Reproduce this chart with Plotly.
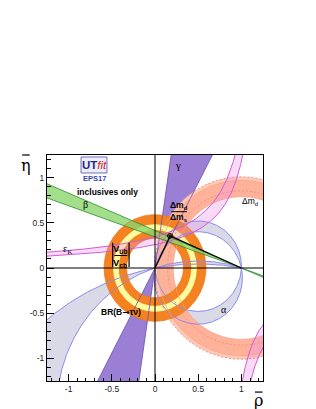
import numpy as np
import plotly.graph_objects as go

# ---------------- values (rho-bar / eta-bar plane) ----------------
GAMMA_DEG = [62.0, 81.5]            # gamma wedge edges, from (0,0)
BETA_DEG = [19.0, 22.5]             # beta band edges, from (1,0)
VUB_R95 = [0.33, 0.59]              # |Vub/Vcb| ring (orange), centred on (0,0)
VUB_R68 = [0.42, 0.485]             # |Vub/Vcb| inner ring (yellow)
DMD_R = [0.855, 1.01]               # Delta m_d ring about (1,0), dashed
DMDMS_R = [0.79, 0.97]              # Delta m_d / Delta m_s ring about (1,0)
ALPHA_FAR_K = [-2.75, -1.56]        # alpha circles through (0,0),(1,0): centre (0.5,k)
ALPHA_NEAR_K = [-0.11, 0.02]
EPSK_UP_C = [0.33, 0.44]            # eps_K upper branch  eta = c/(pole-rho)
EPSK_UP_POLE = 1.28
EPSK_LO_C = [0.30, 0.42]            # eps_K lower branch  eta = -c/(rho-pole)
EPSK_LO_POLE = 0.77
APEX = [0.175, 0.355]
APEX_AXES = [[0.032, 0.027], [0.016, 0.013]]

AX_RANGE = [-1.25, 1.25]
TICK_VALS = [-1, -0.5, 0, 0.5, 1]
TICK_TEXT = ["-1", "-0.5", "0", "0.5", "1"]
MINOR_TICKS = [round(v, 1) for v in np.arange(-1.2, 1.21, 0.1)]

# ---------------- colours ----------------
C_ALPHA_F, C_ALPHA_L = "#D9D9E8", "#8C8CEE"
C_GAMMA_F, C_GAMMA_L = "#9B7FD4", "#6B4FB0"
C_DMD_F, C_DMD_L = "#FFC8B6", "#EE8C78"
C_DMS_F, C_DMS_L = "#FFB29A", "#F4A088"
C_VUB_O, C_VUB_Y = "#F58220", "#FFFCA0"
C_EPS_F, C_EPS_L = "rgba(236,150,236,0.35)", "#D25CD2"
C_BETA_F, C_BETA_L = "rgba(140,214,110,0.80)", "#2E8B2E"

TH = np.linspace(0, 2 * np.pi, 721)


def circ(cx, cy, r, t=TH):
    return cx + r * np.cos(t), cy + r * np.sin(t)


def annulus(cx, cy, r0, r1):
    xo, yo = circ(cx, cy, r1)
    xi, yi = circ(cx, cy, r0, TH[::-1])
    return np.concatenate([xo, xi]), np.concatenate([yo, yi])


def alpha_circle(k, t0, t1, n=600):
    r = np.hypot(0.5, k)
    t = np.linspace(t0, t1, n)
    return 0.5 + r * np.cos(t), k + r * np.sin(t)


fig = go.Figure()


def add_fill(x, y, color):
    fig.add_trace(go.Scatter(x=x, y=y, mode="lines", fill="toself", fillcolor=color,
                             line=dict(width=0), hoverinfo="skip", showlegend=False))


def add_line(x, y, color, width=1.0, dash="solid"):
    fig.add_trace(go.Scatter(x=x, y=y, mode="lines", line=dict(color=color, width=width, dash=dash),
                             hoverinfo="skip", showlegend=False))


# ---------- alpha (far solution, left) ----------
far_arcs = []
for k in ALPHA_FAR_K:
    t_one = np.arctan2(-k, 0.5)             # angle of point (1,0) seen from centre
    far_arcs.append(alpha_circle(k, t_one, np.radians(230)))
xa, ya = far_arcs[0]
xb, yb = far_arcs[1]
add_fill(np.concatenate([xa, xb[::-1]]), np.concatenate([ya, yb[::-1]]), C_ALPHA_F)

# ---------- alpha (near 90 deg) ----------
near = []
for k in ALPHA_NEAR_K:
    t_one = np.arctan2(-k, 0.5)
    near.append(alpha_circle(k, t_one, t_one + 2 * np.pi))
xc, yc = near[0]
xd, yd = near[1]
add_fill(np.concatenate([xd, xc[::-1]]), np.concatenate([yd, yc[::-1]]), C_ALPHA_F)

# ---------- gamma ----------
L = 3.0
g0, g1 = np.radians(GAMMA_DEG)
gx = [0, L * np.cos(g0), L * np.cos(g1), 0, -L * np.cos(g0), -L * np.cos(g1), 0]
gy = [0, L * np.sin(g0), L * np.sin(g1), 0, -L * np.sin(g0), -L * np.sin(g1), 0]
add_fill(gx, gy, C_GAMMA_F)

# ---------- Delta m_d and Delta m_d / Delta m_s ----------
x, y = annulus(1, 0, DMD_R[0], DMD_R[1])
add_fill(x, y, C_DMD_F)
x, y = annulus(1, 0, DMDMS_R[0], DMDMS_R[1])
add_fill(x, y, C_DMS_F)

# ---------- |Vub/Vcb| ----------
x, y = annulus(0, 0, VUB_R95[0], VUB_R95[1])
add_fill(x, y, C_VUB_O)
x, y = annulus(0, 0, VUB_R68[0], VUB_R68[1])
add_fill(x, y, C_VUB_Y)

# ---------- eps_K ----------
eps_up = []
for c in EPSK_UP_C:
    eta = np.geomspace(c / (EPSK_UP_POLE + 1.3), 1.3, 500)
    eps_up.append((EPSK_UP_POLE - c / eta, eta))
eps_lo = []
for c in EPSK_LO_C:
    rho = np.linspace(EPSK_LO_POLE + c / 1.3, 1.3, 300)
    eps_lo.append((rho, -c / (rho - EPSK_LO_POLE)))
for a, b in (eps_up, eps_lo):
    add_fill(np.concatenate([a[0], b[0][::-1]]), np.concatenate([a[1], b[1][::-1]]), C_EPS_F)

# ---------- beta ----------
b0, b1 = np.radians(BETA_DEG)
bx = [1, 1 - L * np.cos(b0), 1 - L * np.cos(b1), 1, 1 + L * np.cos(b1), 1 + L * np.cos(b0), 1]
by = [0, L * np.sin(b0), L * np.sin(b1), 0, -L * np.sin(b1), -L * np.sin(b0), 0]
add_fill(bx, by, C_BETA_F)

# ---------- edge lines ----------
for xx, yy in far_arcs + near:
    add_line(xx, yy, C_ALPHA_L, 1.0)
for g in (g0, g1):
    add_line([-L * np.cos(g), L * np.cos(g)], [-L * np.sin(g), L * np.sin(g)], C_GAMMA_L, 0.8)
for r in DMD_R:
    xx, yy = circ(1, 0, r)
    add_line(xx, yy, C_DMD_L, 0.9, "2px,2px")
for r in DMDMS_R:
    xx, yy = circ(1, 0, r)
    add_line(xx, yy, C_DMS_L, 0.7)
for r in VUB_R95:
    xx, yy = circ(0, 0, r)
    add_line(xx, yy, "#E8741A", 0.7)
for xx, yy in eps_up + eps_lo:
    add_line(xx, yy, C_EPS_L, 1.0)
for b in (b0, b1):
    add_line([1 - L * np.cos(b), 1 + L * np.cos(b)], [L * np.sin(b), -L * np.sin(b)], C_BETA_L, 0.8)

# ---------- triangle and apex ----------
add_line([0, APEX[0], 1], [0, APEX[1], 0], "black", 1.3)
for ax_, ay_ in APEX_AXES:
    xx, yy = APEX[0] + ax_ * np.cos(TH), APEX[1] + ay_ * np.sin(TH)
    add_line(xx, yy, "black", 1.0)

# ---------- annotations ----------
SANS = "Liberation Sans, Arial, sans-serif"
SERIF = "Liberation Serif, Times New Roman, serif"
ann = []


def txt(x, y, s, size=9, color="black", family=SANS, xref="x", yref="y"):
    ann.append(dict(x=x, y=y, xref=xref, yref=yref, text=s, showarrow=False,
                    xanchor="center", yanchor="middle",
                    font=dict(size=size, color=color, family=family)))


txt(0.27, 1.14, "γ", 11, family=SERIF)
txt(-0.81, 0.705, "β", 10, family=SERIF)
txt(-1.01, 0.21, "ε<sub>K</sub>", 10, family=SERIF)
txt(0.80, -0.455, "α", 10, family=SERIF)
txt(1.10, 0.74, "Δm<sub>d</sub>", 8.5)
txt(0.28, 0.695, "<b>Δm<sub>d</sub></b>", 8.5)
txt(0.28, 0.555, "<b>Δm<sub>s</sub></b>", 8.5)
txt(-0.55, 0.846, "<b>inclusives only</b>", 8.5)
txt(-0.39, -0.49, "<b>BR(B<span style='font-family:DejaVu Sans'>→</span>τν)</b>", 8.5)
txt(-0.40, 0.215, "<b>V<sub>ub</sub></b>", 9.5)
txt(-0.40, 0.06, "<b>V<sub>cb</sub></b>", 9.5)
txt(-0.706, 1.14, "<span style='color:#1E2C86'><b>UT</b></span><span style='color:#D42020'><i>fit</i></span>", 11.5)
txt(-0.706, 0.995, "<b>EPS17</b>", 7.5, color="#3A48A8")
txt(-0.097, 0.955, "η", 16, family="DejaVu Serif", xref="paper", yref="paper")
txt(0.981, -0.088, "ρ", 16, family="DejaVu Serif", xref="paper", yref="paper")

shapes = [
    dict(type="line", xref="x", yref="paper", x0=0, x1=0, y0=0, y1=1, line=dict(color="black", width=1), layer="above"),
    dict(type="line", xref="paper", yref="y", x0=0, x1=1, y0=0, y1=0, line=dict(color="black", width=1), layer="above"),
    # bars of the axis titles
    dict(type="line", xref="paper", yref="paper", x0=-0.115, x1=-0.08, y0=1.0, y1=1.0, line=dict(color="black", width=1.2)),
    dict(type="line", xref="paper", yref="paper", x0=0.963, x1=0.998, y0=-0.049, y1=-0.049, line=dict(color="black", width=1.2)),
    # Delta m_d / Delta m_s fraction bar
    dict(type="line", x0=0.19, x1=0.37, y0=0.623, y1=0.623, line=dict(color="black", width=1), layer="above"),
    # |Vub/Vcb| bars and fraction line
    dict(type="line", x0=-0.49, x1=-0.49, y0=0.01, y1=0.28, line=dict(color="black", width=1.2), layer="above"),
    dict(type="line", x0=-0.30, x1=-0.30, y0=0.01, y1=0.28, line=dict(color="black", width=1.2), layer="above"),
    dict(type="line", x0=-0.47, x1=-0.32, y0=0.138, y1=0.138, line=dict(color="black", width=1), layer="above"),
    # logo frame
    dict(type="rect", x0=-0.856, x1=-0.556, y0=1.051, y1=1.228, fillcolor="#EEEEFA",
         line=dict(color="#7070C0", width=1), layer="below"),
]

axis_common = dict(range=AX_RANGE, tickmode="array", tickvals=TICK_VALS, ticktext=TICK_TEXT,
                   ticks="inside", ticklen=7, tickwidth=1, tickcolor="black",
                   minor=dict(tickmode="array", tickvals=MINOR_TICKS, ticks="inside", ticklen=3.5,
                              tickcolor="black", tickwidth=1),
                   showline=True, linecolor="black", linewidth=1, mirror=True,
                   showgrid=False, zeroline=False,
                   tickfont=dict(size=8.5, family=SANS, color="#222"))

fig.update_layout(
    width=316, height=409,
    margin=dict(l=39, r=61, t=147, b=36),
    paper_bgcolor="white", plot_bgcolor="white",
    xaxis=axis_common, yaxis=axis_common,
    annotations=ann, shapes=shapes, showlegend=False,
)
fig.write_html("out.html")
